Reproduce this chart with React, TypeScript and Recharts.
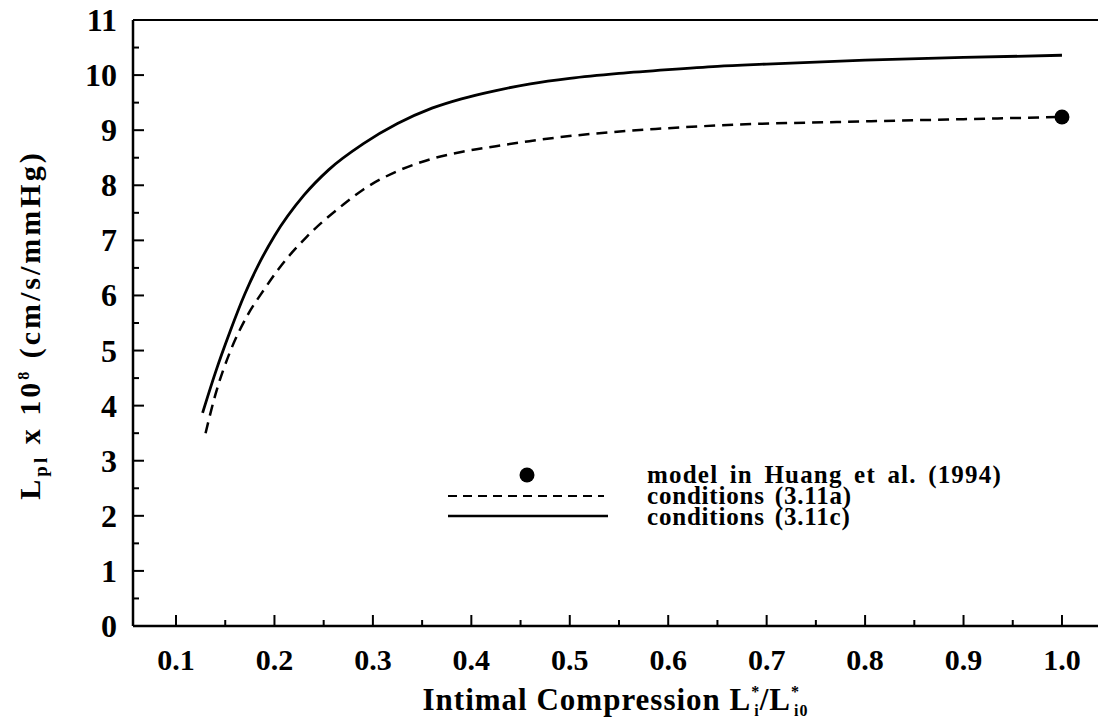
import React from 'react'
import {
  ComposedChart,
  Line,
  Scatter,
  XAxis,
  YAxis,
  ReferenceLine,
  Label,
} from 'recharts'

const solidX = [0.127, 0.14, 0.155, 0.17, 0.185, 0.2, 0.23, 0.255, 0.29, 0.325, 0.36, 0.39, 0.425, 0.46, 0.5, 0.55, 0.6, 0.65, 0.7, 0.8, 0.9, 1.0]
const solidY = [3.87, 4.6, 5.35, 6.03, 6.6, 7.08, 7.82, 8.28, 8.75, 9.12, 9.4, 9.57, 9.72, 9.84, 9.94, 10.03, 10.1, 10.16, 10.2, 10.27, 10.32, 10.36]

const dashedX = [0.13, 0.14, 0.155, 0.172, 0.19, 0.205, 0.232, 0.27, 0.29, 0.324, 0.358, 0.391, 0.425, 0.459, 0.493, 0.527, 0.56, 0.594, 0.655, 0.8, 0.9, 1.0]
const dashedY = [3.5, 4.2, 4.98, 5.62, 6.12, 6.5, 7.05, 7.65, 7.92, 8.25, 8.47, 8.61, 8.71, 8.8, 8.88, 8.94, 8.99, 9.03, 9.09, 9.16, 9.2, 9.24]

const huangX = [1.0]
const huangY = [9.24]

const xTicks = [0.1, 0.15, 0.2, 0.25, 0.3, 0.35, 0.4, 0.45, 0.5, 0.55, 0.6, 0.65, 0.7, 0.75, 0.8, 0.85, 0.9, 0.95, 1.0]
const xTickLabels: Record<string, string> = {
  '0.1': '0.1', '0.2': '0.2', '0.3': '0.3', '0.4': '0.4', '0.5': '0.5',
  '0.6': '0.6', '0.7': '0.7', '0.8': '0.8', '0.9': '0.9', '1': '1.0',
}
const yTicks = [0, 0.5, 1, 1.5, 2, 2.5, 3, 3.5, 4, 4.5, 5, 5.5, 6, 6.5, 7, 7.5, 8, 8.5, 9, 9.5, 10, 10.5, 11]

const legendLabels = ['model in Huang et al. (1994)', 'conditions (3.11a)', 'conditions (3.11c)']

const solidData = solidX.map((x, i) => ({ x, y: solidY[i] }))
const dashedData = dashedX.map((x, i) => ({ x, y: dashedY[i] }))
const huangData = huangX.map((x, i) => ({ x, y: huangY[i] }))

const FONT = '"Liberation Serif", "Times New Roman", serif'

const XTick = (props: any) => {
  const { x, y, payload } = props
  const label = xTickLabels[String(payload.value)]
  return (
    <g>
      <line x1={x} x2={x} y1={y} y2={y - (label ? 11 : 6)} stroke="#000" strokeWidth={2} />
      {label && (
        <text x={x} y={y + 44} textAnchor="middle" fontFamily={FONT} fontWeight="bold" fontSize={30} fill="#000">
          {label}
        </text>
      )}
    </g>
  )
}

const YTick = (props: any) => {
  const { x, y, payload } = props
  const major = Number.isInteger(payload.value)
  return (
    <g>
      <line x1={x} x2={x + (major ? 11 : 6)} y1={y} y2={y} stroke="#000" strokeWidth={2} />
      {major && (
        <text x={x - 16} y={y + 11} textAnchor="end" fontFamily={FONT} fontWeight="bold" fontSize={32} fill="#000">
          {payload.value}
        </text>
      )}
    </g>
  )
}

const XTitle = (props: any) => {
  const { x, y, width } = props.viewBox
  return (
    <text x={x + width / 2} y={y + 84} textAnchor="middle" fontFamily={FONT} fontWeight="bold" fontSize={31} letterSpacing={1} fill="#000">
      Intimal Compression L
      <tspan dy={-13} fontSize={16}>*</tspan>
      <tspan dx={-6} dy={19} fontSize={16}>i</tspan>
      <tspan dy={-6}>/L</tspan>
      <tspan dy={-13} fontSize={16}>*</tspan>
      <tspan dx={-6} dy={19} fontSize={16}>i0</tspan>
    </text>
  )
}

const YTitle = (props: any) => {
  const { x, y, height } = props.viewBox
  const cx = x - 32
  const cy = y + height / 2 + 2
  return (
    <text x={cx} y={cy} transform={`rotate(-90 ${cx} ${cy})`} textAnchor="middle" fontFamily={FONT} fontWeight="bold" fontSize={30} letterSpacing={3} fill="#000">
      L
      <tspan dy={7} fontSize={19}>pl</tspan>
      <tspan dy={-7}> x 10</tspan>
      <tspan dy={-11} fontSize={16}>8</tspan>
      <tspan dy={11}> (cm/s/mmHg)</tspan>
    </text>
  )
}

function LegendBox() {
  const textStyle = { fontFamily: FONT, fontWeight: 'bold' as const, fontSize: 25, fill: '#000' }
  return (
    <svg width={1098} height={721} style={{ position: 'absolute', left: 0, top: 0, pointerEvents: 'none' }}>
      <circle cx={527} cy={475} r={7.5} fill="#000" />
      <line x1={448} x2={604} y1={496} y2={496} stroke="#000" strokeWidth={2} strokeDasharray="9 6" />
      <line x1={448} x2={608} y1={516} y2={516} stroke="#000" strokeWidth={2.5} />
      <text x={647} y={483} {...textStyle} letterSpacing={1.2} wordSpacing={4}>{legendLabels[0]}</text>
      <text x={647} y={504} {...textStyle} letterSpacing={0.8} wordSpacing={3}>{legendLabels[1]}</text>
      <text x={647} y={525} {...textStyle} letterSpacing={0.8} wordSpacing={3}>{legendLabels[2]}</text>
    </svg>
  )
}

export default function App() {
  return (
    <div style={{ position: 'absolute', left: 0, top: 0, width: 1098, height: 721, background: '#fff' }}>
      <ComposedChart width={1098} height={721} margin={{ top: 20, right: 0, bottom: 94, left: 72 }}>
        <XAxis
          type="number"
          dataKey="x"
          domain={[0.0563, 1.0366]}
          ticks={xTicks}
          interval={0}
          height={1}
          tickSize={0}
          tickMargin={0}
          tickLine={false}
          tick={<XTick />}
          axisLine={{ stroke: '#000', strokeWidth: 2.5 }}
          allowDataOverflow
        >
          <Label content={<XTitle />} />
        </XAxis>
        <YAxis
          type="number"
          dataKey="y"
          domain={[0, 11]}
          ticks={yTicks}
          interval={0}
          width={61}
          tickSize={0}
          tickMargin={0}
          tickLine={false}
          tick={<YTick />}
          axisLine={{ stroke: '#000', strokeWidth: 2.5 }}
          allowDataOverflow
        >
          <Label content={<YTitle />} />
        </YAxis>
        <ReferenceLine y={11} stroke="#000" strokeWidth={2} />
        <Line
          data={dashedData}
          dataKey="y"
          type="monotone"
          stroke="#000"
          strokeWidth={2.5}
          strokeDasharray="11 7"
          dot={false}
          isAnimationActive={false}
        />
        <Line
          data={solidData}
          dataKey="y"
          type="monotone"
          stroke="#000"
          strokeWidth={2.8}
          dot={false}
          isAnimationActive={false}
        />
        <Scatter
          data={huangData}
          dataKey="y"
          fill="#000"
          shape={(p: any) => <circle cx={p.cx} cy={p.cy} r={7.5} fill="#000" />}
          isAnimationActive={false}
        />
      </ComposedChart>
      <LegendBox />
    </div>
  )
}
